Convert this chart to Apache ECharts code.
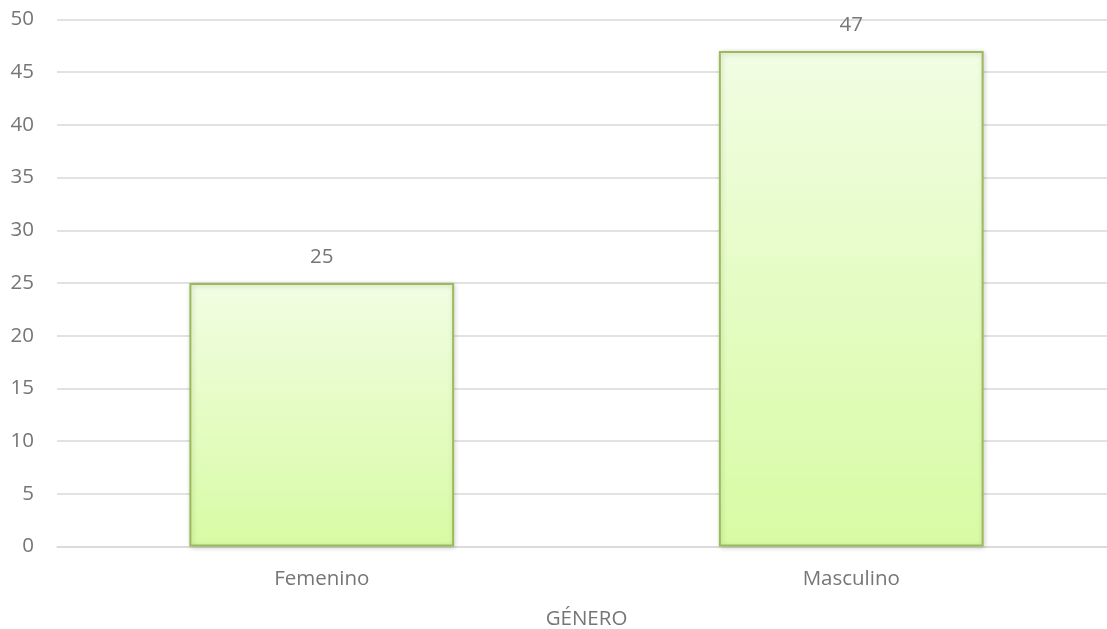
<!DOCTYPE html>
<html>
<head>
<meta charset="utf-8">
<script src="https://cdn.jsdelivr.net/npm/echarts@6/dist/echarts.min.js"></script>
<style>
  html, body { margin: 0; padding: 0; background: #fff; }
  #chart { width: 1107px; height: 629px; }
</style>
</head>
<body>
<div id="chart"></div>
<script>
// Respondents by gender
const categories = ['Femenino', 'Masculino'];
const counts = [25, 47];
const axisTitle = 'GÉNERO';

const chart = echarts.init(document.getElementById('chart'), null, { renderer: 'canvas' });
const textColor = '#767676';
const font = '"Open Sans", "Noto Sans", sans-serif';
const fontSize = 20.5;

chart.setOption({
  animation: false,
  grid: {
    left: 57, right: -9, top: 19.5, bottom: 82.5,
    containLabel: false,
    outerBoundsMode: 'none'
  },
  xAxis: {
    type: 'category',
    data: categories,
    name: axisTitle,
    nameLocation: 'middle',
    nameGap: 62,
    nameTextStyle: { color: textColor, fontSize: fontSize, fontFamily: font },
    axisLine: { lineStyle: { color: '#d9d9d9', width: 1.5 } },
    axisTick: { show: false },
    axisLabel: { color: textColor, fontSize: fontSize, fontFamily: font, margin: 22 }
  },
  yAxis: {
    type: 'value',
    min: 0,
    max: 50,
    interval: 5,
    axisLine: { show: false },
    axisTick: { show: false },
    axisLabel: { color: textColor, fontSize: fontSize, fontFamily: font, margin: 23 },
    splitLine: { lineStyle: { color: '#d9d9d9', width: 1.5 } }
  },
  series: [{
    type: 'bar',
    data: counts,
    barWidth: '50%',
    itemStyle: {
      color: new echarts.graphic.LinearGradient(0, 0, 0, 1, [
        { offset: 0, color: '#f1fde3' },
        { offset: 1, color: '#d8fba4' }
      ]),
      borderColor: '#9bbb59',
      borderWidth: 2,
      shadowColor: 'rgba(0,0,0,0.18)',
      shadowBlur: 5,
      shadowOffsetX: 1,
      shadowOffsetY: 1
    },
    label: {
      show: true,
      position: 'top',
      distance: 15,
      color: textColor,
      fontSize: fontSize,
      fontFamily: font
    }
  }]
});
</script>
</body>
</html>
